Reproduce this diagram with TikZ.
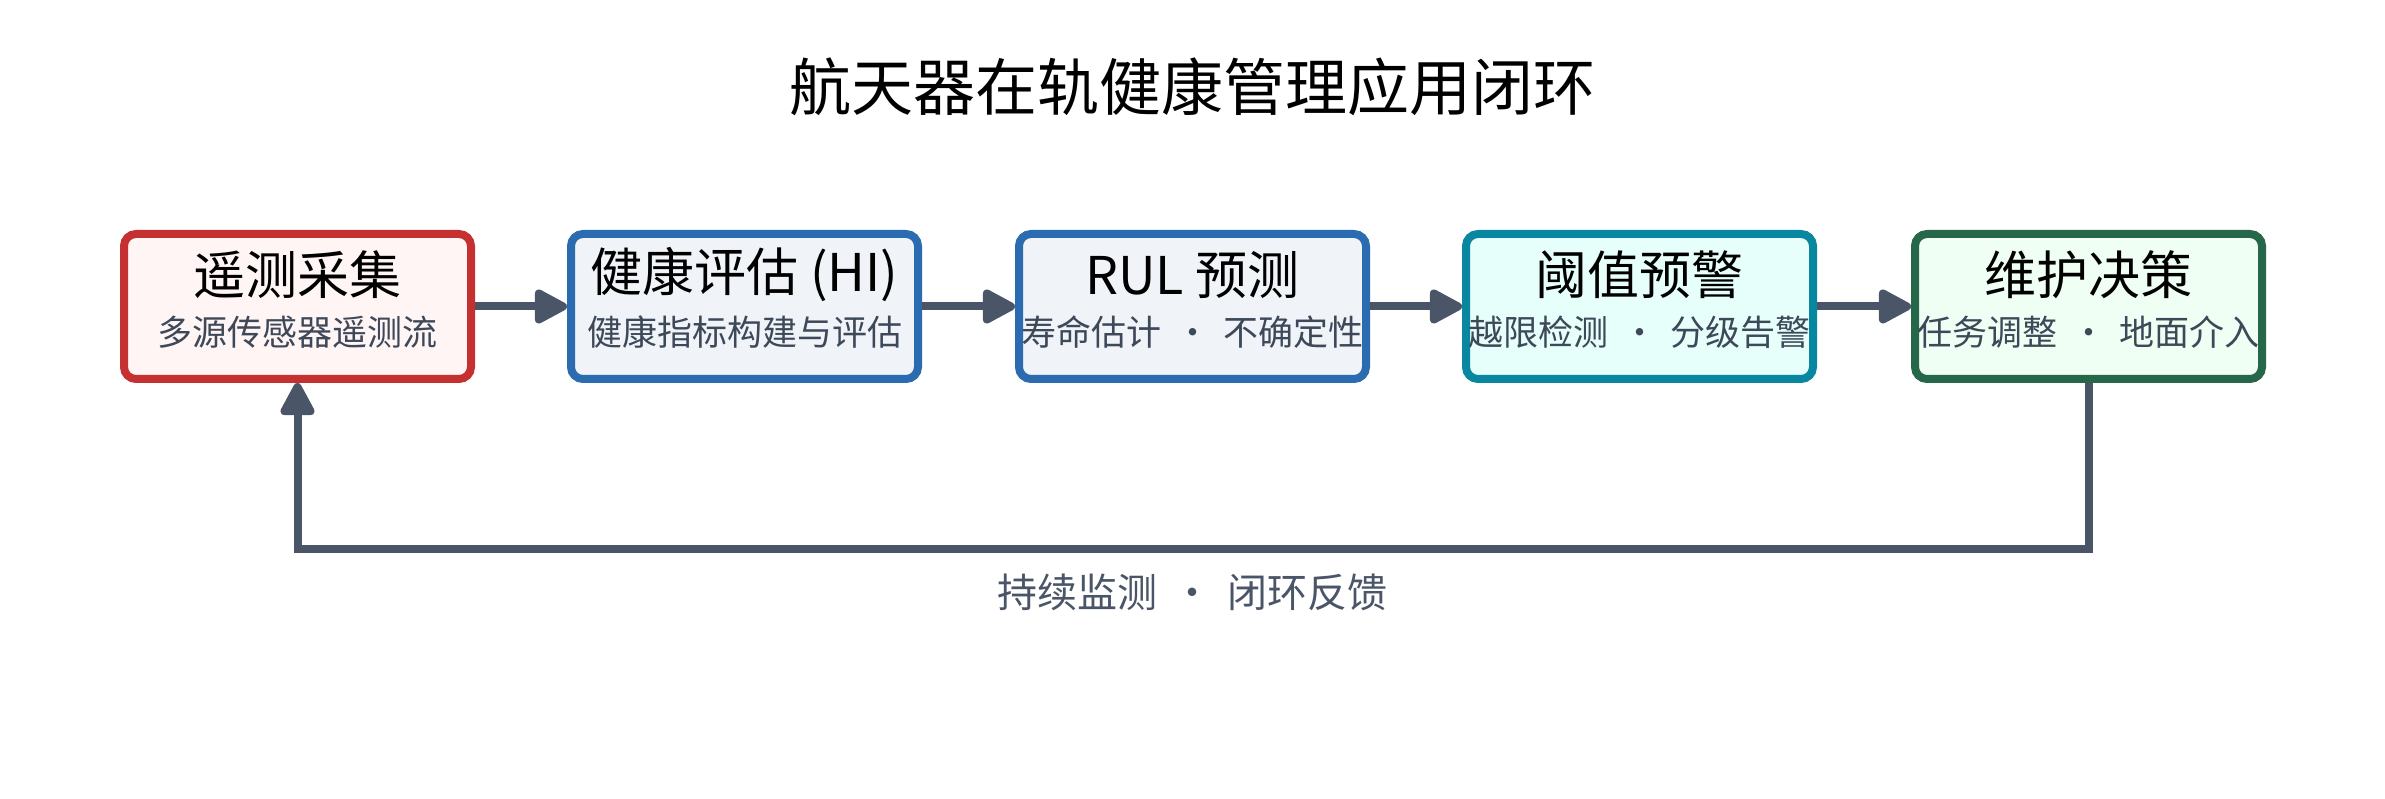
\documentclass[tikz,border=0pt]{standalone}
\usepackage{fontspec}
\setmainfont{Noto Sans CJK SC}
\usetikzlibrary{arrows.meta, positioning, calc}
\definecolor{hmred}{HTML}{C53030}
\definecolor{hmredbg}{HTML}{FFF5F5}
\definecolor{hmblue}{HTML}{2B6CB0}
\definecolor{hmbluebg}{HTML}{F0F4F9}
\definecolor{hmteal}{HTML}{0987A0}
\definecolor{hmtealbg}{HTML}{E6FFFA}
\definecolor{hmgreen}{HTML}{276749}
\definecolor{hmgreenbg}{HTML}{F0FFF4}
\definecolor{hmslate}{HTML}{4A5568}
\definecolor{hmsubtext}{HTML}{3D4859}
\tikzset{
  hm box/.style={
    rectangle, rounded corners=12pt, line width=8pt,
    minimum width=347pt, minimum height=145pt, inner sep=0pt
  },
  hm head/.style={
    font=\fontsize{52}{60}\selectfont, text=black, inner sep=0pt
  },
  hm sub/.style={
    font=\fontsize{35}{42}\selectfont, text=hmsubtext, inner sep=0pt
  },
  hm arrow/.style={
    -{Triangle[length=37pt, width=37pt, round]}, line width=8pt, draw=hmslate
  },
  hm label/.style={
    font=\fontsize{40}{48}\selectfont, text=hmslate, inner sep=0pt
  }
}
\newcommand{\hmdot}{\hspace{0.38em}·\hspace{0.38em}}

\begin{document}
\begin{tikzpicture}[x=1pt, y=1pt]
\useasboundingbox (0,0) rectangle (2385,799);

% ====== Title ======
\node[font=\fontsize{62}{74}\selectfont, inner sep=0pt] (title) at (1192.5,712) {航天器在轨健康管理应用闭环};

% ====== Pipeline stages ======
\node[hm box, draw=hmred, fill=hmredbg] (b1) at (297.5,492.5) {};
\node[hm head] (b1h) at ([yshift=31.5pt]b1.center) {遥测采集};
\node[hm sub] (b1s) at ([yshift=-25.5pt]b1.center) {多源传感器遥测流};

\node[hm box, draw=hmblue, fill=hmbluebg] (b2) at (744.5,492.5) {};
\node[hm head] (b2h) at ([yshift=31.5pt]b2.center) {健康评估 (HI)};
\node[hm sub] (b2s) at ([yshift=-25.5pt]b2.center) {健康指标构建与评估};

\node[hm box, draw=hmblue, fill=hmbluebg] (b3) at (1192.5,492.5) {};
\node[hm head] (b3h) at ([yshift=31.5pt]b3.center) {RUL 预测};
\node[hm sub] (b3s) at ([yshift=-25.5pt]b3.center) {寿命估计\hmdot 不确定性};

\node[hm box, draw=hmteal, fill=hmtealbg] (b4) at (1639.5,492.5) {};
\node[hm head] (b4h) at ([yshift=31.5pt]b4.center) {阈值预警};
\node[hm sub] (b4s) at ([yshift=-25.5pt]b4.center) {越限检测\hmdot 分级告警};

\node[hm box, draw=hmgreen, fill=hmgreenbg] (b5) at (2088.5,492.5) {};
\node[hm head] (b5h) at ([yshift=31.5pt]b5.center) {维护决策};
\node[hm sub] (b5s) at ([yshift=-25.5pt]b5.center) {任务调整\hmdot 地面介入};

% -- forward arrows --
\draw[hm arrow] (b1) -- (b2);
\draw[hm arrow] (b2) -- (b3);
\draw[hm arrow] (b3) -- (b4);
\draw[hm arrow] (b4) -- (b5);

% ====== Feedback loop ======
\coordinate (fb) at (1192.5,250);
\draw[hm arrow] (b5.south) |- (fb) -| (b1.south);
\node[hm label] (fbl) at (1192.5,207) {持续监测\hmdot 闭环反馈};

\end{tikzpicture}
\end{document}
